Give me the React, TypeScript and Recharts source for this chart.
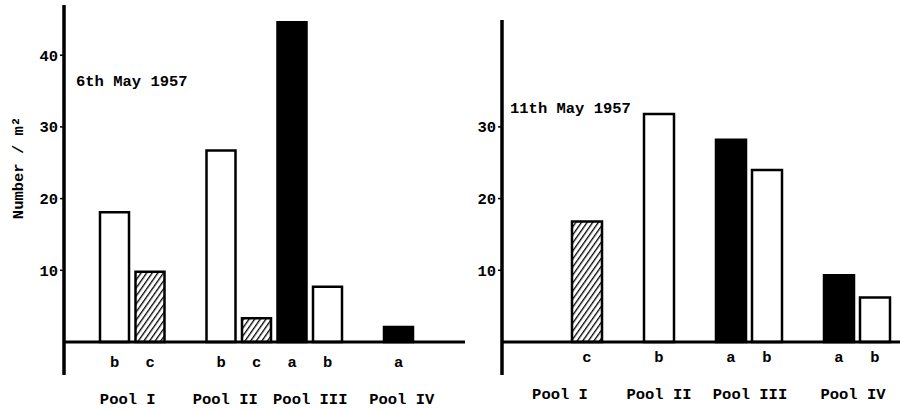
import { BarChart, Bar, XAxis, YAxis, Cell, ReferenceLine } from "recharts";

// slot letters under each bar: a = solid, b = open, c = hatched
const leftSlots = ["b", "c", "", "b", "c", "a", "b", "", "a"];
const leftValues = [18.1, 9.8, null, 26.7, 3.3, 44.6, 7.7, null, 2.1];
const leftPools = ["Pool I", "", "", "Pool II", "", "Pool III", "", "", "Pool IV"];
const leftTicks = [10, 20, 30, 40];

const rightSlots = ["", "c", "", "b", "", "a", "b", "", "a", "b"];
const rightValues = [null, 16.8, null, 31.8, null, 28.2, 24.0, null, 9.3, 6.2];
const rightPools = ["Pool I", "", "", "Pool II", "", "Pool III", "", "", "Pool IV", ""];
const rightTicks = [10, 20, 30];

const FONT = '"Liberation Mono", "DejaVu Sans Mono", monospace';

// small nudges so the pool names sit where the typist put them
const leftNudge: Record<string, number> = { "Pool I": 13, "Pool II": 4, "Pool III": 18, "Pool IV": 3 };
const rightNudge: Record<string, number> = { "Pool I": 9, "Pool II": 0, "Pool III": 19, "Pool IV": 14 };

const makeRows = (slots: string[], values: (number | null)[], pools: string[]) =>
    slots.map((s, i) => ({ id: i, slot: s, value: values[i], pool: pools[i] }));

const leftRows = makeRows(leftSlots, leftValues, leftPools);
const rightRows = makeRows(rightSlots, rightValues, rightPools);

const fillFor = (slot: string, hatch: string) => {
    if (slot === "a") return "#000";
    if (slot === "c") return `url(#${hatch})`;
    return "#fff";
};

const slotTick = (props: any, rows: any[], nudge: Record<string, number>, dyLetter: number, dyPool: number) => {
    const { x, y, payload } = props;
    const row = rows[payload.index];
    if (!row) return <g />;
    const txt = { fontFamily: FONT, fontSize: 15.5, fontWeight: "bold" as const, fill: "#000" };
    return (
        <g>
            {row.slot && (
                <text x={x} y={y + dyLetter} textAnchor="middle" {...txt}>
                    {row.slot}
                </text>
            )}
            {row.pool && (
                <text x={x + (nudge[row.pool] || 0)} y={y + dyPool} textAnchor="middle" {...txt}>
                    {row.pool}
                </text>
            )}
        </g>
    );
};

const Hatch = ({ id }: { id: string }) => (
    <defs>
        <pattern id={id} patternUnits="userSpaceOnUse" width={4.6} height={4.6} patternTransform="rotate(35)">
            <rect width={4.6} height={4.6} fill="#fff" />
            <line x1={0} y1={0} x2={0} y2={4.6} stroke="#000" strokeWidth={2.6} />
        </pattern>
    </defs>
);

const tickStyle = { fill: "#000", fontFamily: FONT, fontSize: 15.5, fontWeight: "bold" };

export default function App() {
    return (
        <div style={{ position: "absolute", left: 0, top: 0, width: 900, height: 410, background: "#fff", overflow: "hidden" }}>
            <div style={{ position: "absolute", left: 0, top: 0 }}>
                <BarChart width={470} height={410} data={leftRows} margin={{ top: 5, right: 5, bottom: 0, left: 0 }}>
                    <Hatch id="hatchL" />
                    <XAxis
                        dataKey="id"
                        type="category"
                        interval={0}
                        height={35}
                        padding={{ left: 33, right: 48.5 }}
                        axisLine={false}
                        tickLine={false}
                        tickSize={0}
                        tickMargin={0}
                        tick={(p: any) => slotTick(p, leftRows, leftNudge, -8, 29)}
                    />
                    <YAxis
                        type="number"
                        width={64}
                        domain={[-4.6, 47]}
                        ticks={leftTicks}
                        interval={0}
                        allowDataOverflow
                        axisLine={{ stroke: "#000", strokeWidth: 3.5 }}
                        tickLine={{ stroke: "#000", strokeWidth: 1.5 }}
                        tickSize={4}
                        tickMargin={2}
                        tick={tickStyle}
                    />
                    <ReferenceLine y={0} stroke="#000" strokeWidth={3} />
                    <Bar dataKey="value" barSize={29} stroke="#000" strokeWidth={2.5} isAnimationActive={false}>
                        {leftRows.map((r) => (
                            <Cell key={r.id} fill={fillFor(r.slot, "hatchL")} />
                        ))}
                    </Bar>
                </BarChart>
            </div>
            <div style={{ position: "absolute", left: 450, top: 0 }}>
                <BarChart width={450} height={410} data={rightRows} margin={{ top: 20, right: 0, bottom: 0, left: 0 }}>
                    <Hatch id="hatchR" />
                    <XAxis
                        dataKey="id"
                        type="category"
                        interval={0}
                        height={35}
                        padding={{ left: 31, right: 7 }}
                        axisLine={false}
                        tickLine={false}
                        tickSize={0}
                        tickMargin={0}
                        tick={(p: any) => slotTick(p, rightRows, rightNudge, -13, 24)}
                    />
                    <YAxis
                        type="number"
                        width={52}
                        domain={[-4.6, 44.9]}
                        ticks={rightTicks}
                        interval={0}
                        allowDataOverflow
                        axisLine={{ stroke: "#000", strokeWidth: 3.5 }}
                        tickLine={{ stroke: "#000", strokeWidth: 1.5 }}
                        tickSize={4}
                        tickMargin={2}
                        tick={tickStyle}
                    />
                    <ReferenceLine y={0} stroke="#000" strokeWidth={3} />
                    <Bar dataKey="value" barSize={30} stroke="#000" strokeWidth={2.5} isAnimationActive={false}>
                        {rightRows.map((r) => (
                            <Cell key={r.id} fill={fillFor(r.slot, "hatchR")} />
                        ))}
                    </Bar>
                </BarChart>
            </div>
            <svg width={900} height={410} style={{ position: "absolute", left: 0, top: 0, pointerEvents: "none" }}>
                <g style={{ fontFamily: FONT, fontSize: 15.5, fontWeight: "bold" }} fill="#000">
                    <text x={76} y={86}>6th May 1957</text>
                    <text x={510} y={113}>11th May 1957</text>
                    <text x={23} y={168} textAnchor="middle" transform="rotate(-90 23 168)">
                        Number / m²
                    </text>
                </g>
            </svg>
        </div>
    );
}
